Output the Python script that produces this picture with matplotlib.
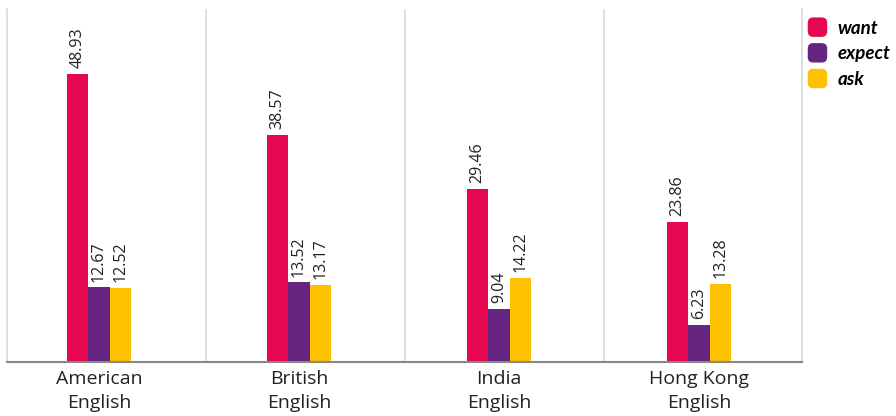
import numpy as np
import matplotlib.pyplot as plt
from matplotlib.patches import FancyBboxPatch
from matplotlib.legend_handler import HandlerPatch

plt.rcParams['font.family'] = ['Open Sans', 'DejaVu Sans']

regions = ['American\nEnglish', 'British\nEnglish', 'India\nEnglish', 'Hong Kong\nEnglish']
want = [48.93, 38.57, 29.46, 23.86]
expect = [12.67, 13.52, 9.04, 6.23]
ask = [12.52, 13.17, 14.22, 13.28]

series = [('want', want, '#e5074f'), ('expect', expect, '#652581'), ('ask', ask, '#fdc100')]


class RoundSquare(HandlerPatch):
    def create_artists(self, legend, orig_handle, xdescent, ydescent, width, height, fontsize, trans):
        s = 14
        p = FancyBboxPatch((-xdescent, -ydescent + (height - s) / 2), s, s,
                           boxstyle='round,pad=0,rounding_size=%f' % (s * 0.28),
                           facecolor=orig_handle.get_facecolor(), edgecolor='none',
                           transform=trans)
        return [p]


fig = plt.figure(figsize=(8.96, 4.16), dpi=100)
ax = fig.add_axes([7 / 896, 54 / 416, 795 / 896, 353 / 416])

x = np.arange(len(regions))
w = 0.107
handles = []
for k, (name, vals, col) in enumerate(series):
    bars = ax.bar(x + (k - 1) * w, vals, w, color=col, label=name)
    handles.append(bars[0])
    for b, v in zip(bars, vals):
        ax.text(b.get_x() + b.get_width() / 2, v + 1.0, '%.2f' % v, rotation=90,
                ha='center', va='bottom', fontsize=11.5, color='#222222')

ax.set_xlim(-0.46, 3.515)
ax.set_ylim(0, 60)
for g in [0.535, 1.53, 2.525]:
    ax.axvline(g, color='#d9d9d9', lw=1.2, zorder=0)

ax.set_yticks([])
ax.set_xticks(x)
ax.set_xticklabels(regions, fontsize=14, color='#222222', linespacing=1.4)
ax.tick_params(axis='x', length=0, pad=6)
ax.spines['top'].set_visible(False)
for s in ['left', 'right']:
    ax.spines[s].set_color('#d9d9d9')
    ax.spines[s].set_linewidth(1.2)
ax.spines['bottom'].set_color('#888888')
ax.spines['bottom'].set_linewidth(1.5)

leg = fig.legend(handles, [s[0] for s in series], loc='upper left',
                 bbox_to_anchor=(804 / 896, 1.0 - 15 / 416), frameon=False,
                 handler_map={h: RoundSquare() for h in handles},
                 prop={'family': ['Lato', 'DejaVu Sans'], 'style': 'italic',
                       'weight': 'bold', 'size': 13.5},
                 handlelength=1.05, handleheight=1.0, handletextpad=0.55,
                 labelspacing=0.42, borderaxespad=0, borderpad=0.2)

fig.savefig('out.png', dpi=100)
